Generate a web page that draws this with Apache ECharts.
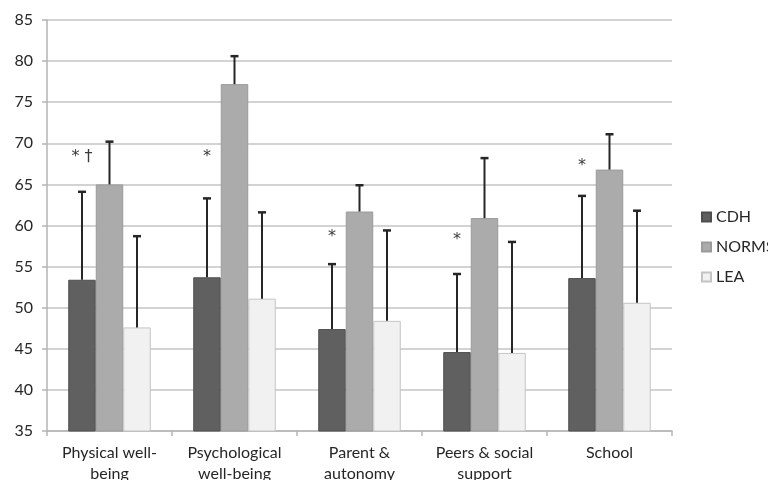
<!DOCTYPE html>
<html>
<head>
<meta charset="utf-8">
<script src="https://cdn.jsdelivr.net/npm/echarts@6/dist/echarts.min.js"></script>
<style>
html,body{margin:0;padding:0;background:#fff;}
#c{width:768px;height:480px;}
</style>
</head>
<body>
<div id="c"></div>
<script>
const categories = ['Physical well-\nbeing', 'Psychological\nwell-being', 'Parent &\nautonomy', 'Peers & social\nsupport', 'School'];
const cdh = [53.4, 53.7, 47.4, 44.6, 53.6];
const cdhUpper = [64.1, 63.3, 55.3, 54.1, 63.6];
const norms = [65.0, 77.2, 61.7, 60.9, 66.8];
const normsUpper = [70.2, 80.6, 64.9, 68.2, 71.1];
const lea = [47.6, 51.1, 48.4, 44.5, 50.6];
const leaUpper = [58.7, 61.6, 59.4, 58.0, 61.8];
const sigMarks = ['* \u2020', '*', '*', '*', '*'];
const sigY = [68.4, 68.4, 58.6, 58.3, 67.3];
const yTicks = {min: 35, max: 85, interval: 5};

const GAP = 0.34;
const FONT = 'Lato';

function errRender(idx) {
  return function (params, api) {
    const cat = api.value(0);
    const base = api.coord([cat, api.value(1)]);
    const top = api.coord([cat, api.value(2)]);
    const catW = api.size([1, 0])[0];
    const bw = catW * (1 - GAP) / 3;
    const x = base[0] + (idx - 1) * bw;
    return {
      type: 'group',
      children: [
        {type: 'line', shape: {x1: x, y1: base[1], x2: x, y2: top[1]}, style: {stroke: '#262626', lineWidth: 2}},
        {type: 'line', shape: {x1: x - 4, y1: top[1], x2: x + 4, y2: top[1]}, style: {stroke: '#262626', lineWidth: 2.5}}
      ]
    };
  };
}

function sigRender(params, api) {
  const cat = api.value(0);
  const p = api.coord([cat, api.value(1)]);
  const catW = api.size([1, 0])[0];
  const bw = catW * (1 - GAP) / 3;
  return {
    type: 'text',
    style: {
      x: p[0] - bw, y: p[1],
      text: sigMarks[params.dataIndex],
      fill: '#3a3a3a', font: '16px "DejaVu Sans"',
      align: 'center', verticalAlign: 'middle'
    }
  };
}

const chart = echarts.init(document.getElementById('c'), null, {renderer: 'canvas'});
chart.setOption({
  backgroundColor: '#fff',
  animation: false,
  grid: {left: 47, right: 96, top: 20, bottom: 49, containLabel: false, outerBoundsMode: 'none'},
  legend: {
    data: ['CDH', 'NORMS', 'LEA'],
    orient: 'vertical',
    left: 696, top: 204,
    icon: 'rect', itemWidth: 9, itemHeight: 9, itemGap: 14,
    textStyle: {fontFamily: FONT, fontSize: 16, color: '#262626'}
  },
  xAxis: {
    type: 'category',
    data: categories,
    axisLine: {lineStyle: {color: '#b5b5b5', width: 1.5}},
    axisTick: {show: true, length: 5, lineStyle: {color: '#b5b5b5', width: 1.5}},
    axisLabel: {fontFamily: FONT, fontSize: 16, color: '#262626', margin: 11, lineHeight: 21, interval: 0},
    splitLine: {show: false}
  },
  yAxis: {
    type: 'value',
    min: yTicks.min, max: yTicks.max, interval: yTicks.interval,
    axisLine: {show: true, lineStyle: {color: '#b5b5b5', width: 1.5}},
    axisTick: {show: true, length: 5, lineStyle: {color: '#b5b5b5', width: 1.5}},
    axisLabel: {fontFamily: FONT, fontSize: 16, color: '#262626', margin: 14},
    splitLine: {show: true, lineStyle: {color: '#c4c4c4', width: 1.5}}
  },
  series: [
    {name: 'CDH', type: 'bar', data: cdh, barGap: '0%', barCategoryGap: (GAP * 100) + '%',
     itemStyle: {color: '#606060', borderColor: '#4e4e4e', borderWidth: 1}},
    {name: 'NORMS', type: 'bar', data: norms,
     itemStyle: {color: '#ababab', borderColor: '#9a9a9a', borderWidth: 1}},
    {name: 'LEA', type: 'bar', data: lea,
     itemStyle: {color: '#f1f1f1', borderColor: '#c4c4c4', borderWidth: 1}},
    {name: 'errCDH', type: 'custom', renderItem: errRender(0), z: 5,
     data: cdh.map((v, i) => [i, v, cdhUpper[i]])},
    {name: 'errNORMS', type: 'custom', renderItem: errRender(1), z: 5,
     data: norms.map((v, i) => [i, v, normsUpper[i]])},
    {name: 'errLEA', type: 'custom', renderItem: errRender(2), z: 5,
     data: lea.map((v, i) => [i, v, leaUpper[i]])},
    {name: 'sig', type: 'custom', renderItem: sigRender, z: 6,
     data: sigY.map((v, i) => [i, v])}
  ]
});
</script>
</body>
</html>
